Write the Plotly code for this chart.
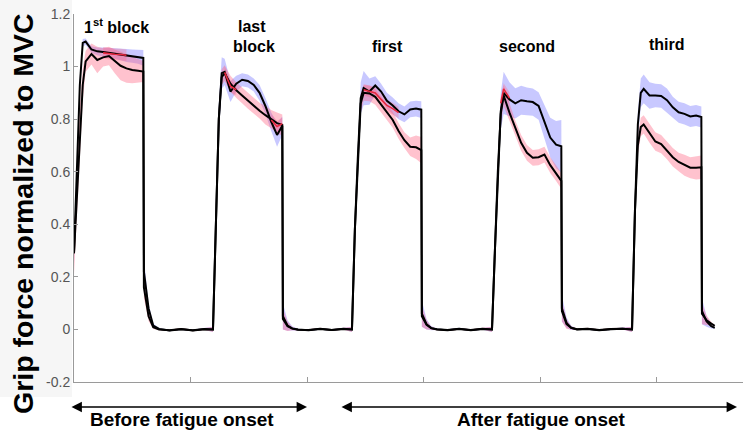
import plotly.graph_objects as go

# ---------------- data ----------------
block_starts = [0.0, 11.93, 23.86, 35.88, 47.9]
on_offsets = [0, 0.25, 0.5, 0.75, 1.0, 1.5, 2.0, 2.5, 3.0, 3.5, 4.0, 4.5, 5.0, 5.5, 5.95]
off_offsets = [6.0, 6.4, 6.8, 7.3, 8.2, 9.2, 10.2, 11.2]
off_offsets_last = [6.0, 6.4, 6.8, 7.1]

blue_on = [
    [0.29, 0.62, 0.93, 1.09, 1.095, 1.065, 1.058, 1.055, 1.052, 1.05, 1.046, 1.042, 1.04, 1.038, 1.033],
    [0.0, 0.45, 0.8, 0.975, 0.98, 0.905, 0.935, 0.95, 0.945, 0.93, 0.9, 0.85, 0.79, 0.74, 0.775],
    [0.0, 0.38, 0.65, 0.88, 0.918, 0.905, 0.928, 0.905, 0.87, 0.852, 0.83, 0.818, 0.837, 0.84, 0.836],
    [0.0, 0.3, 0.6, 0.83, 0.9, 0.875, 0.86, 0.872, 0.868, 0.865, 0.85, 0.79, 0.73, 0.703, 0.697],
    [0.0, 0.45, 0.78, 0.9, 0.915, 0.89, 0.89, 0.888, 0.872, 0.845, 0.826, 0.82, 0.81, 0.814, 0.808],
]
blue_sd_on = [
    [0.04, 0.04, 0.03, 0.015, 0.012, 0.012, 0.015, 0.018, 0.02, 0.02, 0.022, 0.025, 0.025, 0.027, 0.03],
    [0.01, 0.05, 0.06, 0.06, 0.05, 0.04, 0.03, 0.025, 0.025, 0.025, 0.03, 0.03, 0.035, 0.045, 0.035],
    [0.01, 0.04, 0.05, 0.06, 0.065, 0.05, 0.035, 0.03, 0.03, 0.03, 0.03, 0.03, 0.03, 0.03, 0.032],
    [0.01, 0.04, 0.06, 0.07, 0.08, 0.065, 0.058, 0.055, 0.052, 0.052, 0.052, 0.06, 0.075, 0.09, 0.1],
    [0.01, 0.04, 0.05, 0.055, 0.055, 0.05, 0.045, 0.045, 0.045, 0.04, 0.04, 0.04, 0.04, 0.04, 0.04],
]
pink_on = [
    [0.29, 0.5, 0.75, 0.93, 1.02, 1.048, 1.025, 1.035, 1.04, 1.02, 1.003, 0.993, 0.987, 0.984, 0.981],
    [0.0, 0.45, 0.8, 0.96, 0.975, 0.935, 0.91, 0.89, 0.87, 0.85, 0.832, 0.815, 0.8, 0.785, 0.778],
    [0.0, 0.38, 0.65, 0.86, 0.9, 0.898, 0.885, 0.855, 0.825, 0.797, 0.755, 0.72, 0.695, 0.693, 0.682],
    [0.0, 0.3, 0.6, 0.82, 0.89, 0.825, 0.765, 0.71, 0.672, 0.653, 0.655, 0.665, 0.625, 0.595, 0.565],
    [0.0, 0.45, 0.7, 0.77, 0.78, 0.745, 0.715, 0.705, 0.682, 0.655, 0.637, 0.625, 0.615, 0.615, 0.617],
]
pink_sd_on = [
    [0.08, 0.12, 0.1, 0.06, 0.04, 0.04, 0.05, 0.035, 0.035, 0.045, 0.055, 0.055, 0.05, 0.045, 0.04],
    [0.01, 0.04, 0.04, 0.03, 0.03, 0.03, 0.03, 0.03, 0.03, 0.03, 0.03, 0.035, 0.035, 0.04, 0.04],
    [0.01, 0.04, 0.04, 0.035, 0.03, 0.03, 0.03, 0.03, 0.03, 0.03, 0.03, 0.03, 0.035, 0.045, 0.05],
    [0.01, 0.04, 0.04, 0.04, 0.04, 0.035, 0.03, 0.03, 0.03, 0.03, 0.03, 0.03, 0.03, 0.03, 0.03],
    [0.01, 0.035, 0.035, 0.035, 0.035, 0.035, 0.035, 0.035, 0.035, 0.035, 0.035, 0.04, 0.04, 0.045, 0.045],
]
red_on = [
    [None] * 7 + [1.052, 1.049, 1.047, 1.046, 1.043] + [None] * 3,
    [None] * 4 + [0.978, 0.925, 0.912] + [None] * 5 + [0.797, 0.772, 0.783],
    [None] * 4 + [0.912, 0.905, 0.9, 0.875, 0.852, 0.84, 0.825] + [None] * 4,
    [None] * 3 + [0.86, 0.915, 0.88] + [None] * 9,
    [None] * 15,
]
red_sd = 0.022

blue_off = [
    [0.22, 0.08, 0.015, 0.002, -0.004, 0.001, -0.003, 0.002],
    [0.05, 0.015, 0.004, 0.0, -0.003, 0.002, -0.002, 0.003],
    [0.06, 0.02, 0.005, 0.001, -0.002, 0.003, -0.003, 0.002],
    [0.08, 0.025, 0.006, 0.0, 0.002, -0.003, 0.001, 0.003],
    [0.07, 0.03, 0.012, 0.006],
]
pink_off = [
    [0.16, 0.05, 0.008, 0.0, -0.003, 0.002, -0.004, 0.001],
    [0.04, 0.012, 0.003, -0.001, -0.002, 0.003, -0.002, 0.002],
    [0.05, 0.018, 0.005, 0.0, -0.003, 0.002, -0.002, 0.003],
    [0.07, 0.02, 0.006, 0.001, 0.003, -0.002, 0.002, 0.003],
    [0.06, 0.035, 0.022, 0.014],
]
blue_sd_off = [0.05, 0.02, 0.008, 0.003, 0.003, 0.003, 0.003, 0.003]
pink_sd_off = [0.04, 0.018, 0.006, 0.003, 0.003, 0.003, 0.003, 0.003]

y_tickvals = [-0.2, 0, 0.2, 0.4, 0.6, 0.8, 1.0, 1.2]
y_ticktext = ["-0.2", "0", "0.2", "0.4", "0.6", "0.8", "1", "1.2"]
x_tickvals = [10, 20, 30, 40, 50]

block_labels = ["1<sup>st</sup> block", "last", "block", "first", "second", "third"]
region_labels = ["Before fatigue onset", "After fatigue onset"]
y_title = "Grip force normalized to MVC"

# ---------------- assemble series ----------------
def build(on_vals, off_vals, sd_on, sd_off):
    xs, ys, sds = [], [], []
    for i, s in enumerate(block_starts):
        offs = off_offsets if i < len(block_starts) - 1 else off_offsets_last
        xs += [s + o for o in on_offsets] + [s + o for o in offs]
        ys += on_vals[i] + off_vals[i]
        sds += sd_on[i] + sd_off[:len(offs)]
    return xs, ys, sds

bx, by, bsd = build(blue_on, blue_off, blue_sd_on, blue_sd_off)
px_, py_, psd = build(pink_on, pink_off, pink_sd_on, pink_sd_off)

def band(xs, ys, sds, color):
    up = [y + s for y, s in zip(ys, sds)]
    lo = [y - s for y, s in zip(ys, sds)]
    return go.Scatter(x=xs + xs[::-1], y=up + lo[::-1], fill="toself", fillcolor=color,
                      line=dict(width=0), mode="lines", hoverinfo="skip")

fig = go.Figure()
fig.add_trace(band(bx, by, bsd, "rgba(110,110,255,0.38)"))
fig.add_trace(band(px_, py_, psd, "rgba(255,95,125,0.38)"))

# red condition segments
rx, ry = [], []
for i, s in enumerate(block_starts):
    seg_x, seg_y = [], []
    for o, v in zip(on_offsets, red_on[i]):
        if v is None:
            if seg_x:
                fig.add_trace(band(seg_x, seg_y, [red_sd] * len(seg_x), "rgba(255,95,125,0.30)"))
                rx += seg_x + [None]; ry += seg_y + [None]
                seg_x, seg_y = [], []
        else:
            seg_x.append(s + o); seg_y.append(v)
    if seg_x:
        fig.add_trace(band(seg_x, seg_y, [red_sd] * len(seg_x), "rgba(255,95,125,0.30)"))
        rx += seg_x + [None]; ry += seg_y + [None]

fig.add_trace(go.Scatter(x=px_, y=py_, mode="lines", line=dict(color="black", width=2)))
fig.add_trace(go.Scatter(x=bx, y=by, mode="lines", line=dict(color="black", width=2)))
fig.add_trace(go.Scatter(x=rx, y=ry, mode="lines", connectgaps=False,
                         line=dict(color="#e8283f", width=1.6)))

# ---------------- layout ----------------
W, H = 743, 430
L, R, T, B = 74, 0, 14, 48
pw, ph = W - L - R, H - T - B

def xp(px):
    return (px - L) / pw

def yp(py):
    return (H - B - py) / ph

font_fam = "Arial, Liberation Sans, sans-serif"

fig.update_layout(
    width=W, height=H, margin=dict(l=L, r=R, t=T, b=B),
    paper_bgcolor="white", plot_bgcolor="white", showlegend=False,
    font=dict(family=font_fam),
    xaxis=dict(range=[0, pw / 11.65], showline=True, linecolor="#9a9a9a", linewidth=1,
               ticks="inside", ticklen=5, tickcolor="#9a9a9a", tickvals=x_tickvals,
               showticklabels=False, showgrid=False, zeroline=False),
    yaxis=dict(range=[-0.2, 1.2], showline=True, linecolor="#9a9a9a", linewidth=1,
               ticks="inside", ticklen=4, tickcolor="#9a9a9a", tickvals=y_tickvals,
               ticktext=y_ticktext, tickfont=dict(size=14, color="#555555"),
               showgrid=False, zeroline=False),
)

fig.add_shape(type="rect", xref="paper", yref="paper", x0=xp(0), x1=xp(72), y0=yp(397), y1=yp(0),
              fillcolor="#f6f6f6", line=dict(width=0), layer="below")

ann_font = dict(family=font_fam, size=16, color="black", weight="bold")
label_pos = [(116, 26), (252, 27), (254, 46), (387, 46), (527, 46), (667, 45)]
for txt, (lx, ly) in zip(block_labels, label_pos):
    fig.add_annotation(text=txt, xref="paper", yref="paper", x=xp(lx), y=yp(ly),
                       showarrow=False, font=ann_font, xanchor="center", yanchor="middle")

fig.add_annotation(text=y_title, xref="paper", yref="paper", x=xp(23), y=yp(214),
                   textangle=-90, showarrow=False, xanchor="center", yanchor="middle",
                   font=dict(family=font_fam, size=28.5, color="black", weight="bold"))

# region arrows and texts
for (x0, x1), txt, cx in zip([(70, 307), (340, 737)], region_labels, [182, 541]):
    fig.add_annotation(text="", xref="paper", yref="paper", x=xp(x1), y=yp(407),
                       ax=x0 - x1, ay=0, axref="pixel", ayref="pixel", showarrow=True,
                       arrowside="end+start", arrowhead=2, arrowsize=1.3, arrowwidth=1.6,
                       arrowcolor="black", standoff=0, startstandoff=0)
    fig.add_annotation(text=txt, xref="paper", yref="paper", x=xp(cx), y=yp(420),
                       showarrow=False, xanchor="center", yanchor="middle",
                       font=dict(family=font_fam, size=19, color="black", weight="bold"))

fig.write_html("out.html")
